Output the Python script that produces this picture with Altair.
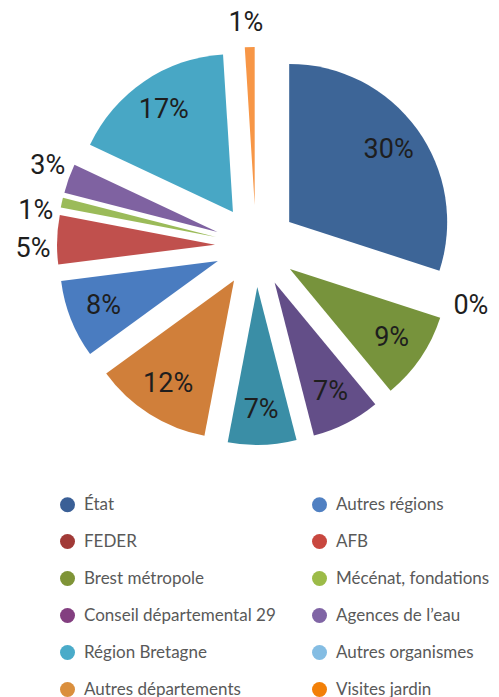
import altair as alt
import pandas as pd

# Pie slices, clockwise from 12 o'clock (also the legend order, column by column)
names = ["État", "FEDER", "Brest métropole", "Conseil départemental 29",
         "Région Bretagne", "Autres départements", "Autres régions", "AFB",
         "Mécénat, fondations", "Agences de l’eau", "Autres organismes",
         "Visites jardin"]
shares = [30, 0, 9, 7, 7, 12, 8, 5, 1, 3, 17, 1]
pie_colors = ["#3d6597", "#9e3a37", "#77933c", "#634e88", "#3a8ea6", "#d07f3a",
              "#4a7cc0", "#c0504d", "#9bbb59", "#7f62a1", "#48a7c5", "#f79646"]
legend_colors = ["#3a5f96", "#a13a37", "#7f9437", "#833f80", "#4aabc9", "#da8f3d",
                 "#5080c2", "#c8473f", "#9cbb48", "#8065a5", "#84bde3", "#f28008"]

df = pd.DataFrame({"idx": list(range(len(names))), "name": names, "share": shares})

CX, CY = 248, 238       # pie centre (px)
R = 158                 # outer radius
EXP = 41                # explode distance
R_IN, R_OUT = 164, 223  # label radii
# small angular nudges (degrees) for the outside labels, to keep them apart
NUDGE = {"FEDER": -2.5, "AFB": -2.6, "Mécénat, fondations": -3.6,
         "Agences de l’eau": 1.2, "Visites jardin": -0.8}
nudge_expr = "".join(f"datum.name=='{k}'?{v}:" for k, v in NUDGE.items()) + "0"

base = (
    alt.Chart(df)
    .transform_joinaggregate(total="sum(share)")
    .transform_window(cum="sum(share)", sort=[alt.SortField("idx")], frame=[None, 0])
    .transform_calculate(
        a0="2*PI*(datum.cum-datum.share)/datum.total",
        a1="2*PI*datum.cum/datum.total",
    )
    .transform_calculate(mid="(datum.a0+datum.a1)/2")
    .transform_calculate(
        px=f"{CX}+{EXP}*sin(datum.mid)",
        py=f"{CY}-{EXP}*cos(datum.mid)",
        lr=f"datum.share>=7?{R_IN}:{R_OUT}",
        la=f"datum.mid+({nudge_expr})*PI/180",
        label="datum.share+'%'",
    )
    .transform_calculate(
        lx=f"{CX}+datum.lr*sin(datum.la)",
        ly=f"{CY}-datum.lr*cos(datum.la)",
    )
)

arcs = base.mark_arc(outerRadius=R, innerRadius=0, stroke=None).encode(
    x=alt.X("px:Q", scale=None, axis=None),
    y=alt.Y("py:Q", scale=None, axis=None),
    theta=alt.Theta("a0:Q", scale=None, stack=False),
    theta2="a1:Q",
    color=alt.Color("name:N", scale=alt.Scale(domain=names, range=pie_colors), legend=None),
)

texts = base.mark_text(font="Roboto", fontSize=27, color="#1e1e1e",
                       align="center", baseline="middle").encode(
    x=alt.X("lx:Q", scale=None, axis=None),
    y=alt.Y("ly:Q", scale=None, axis=None),
    text="label:N",
)

legend_layer = alt.Chart(df).mark_point(filled=True, opacity=0).encode(
    x=alt.value(CX),
    y=alt.value(CY),
    color=alt.Color(
        "name:N",
        scale=alt.Scale(domain=names, range=legend_colors),
        legend=alt.Legend(
            title=None, orient="none", legendX=51, legendY=488, columns=2,
            symbolType="circle", symbolSize=225, symbolOpacity=1,
            symbolStrokeWidth=0, labelFont="Lato", labelFontSize=17,
            labelColor="#595959", rowPadding=19, columnPadding=35,
            labelOffset=8, labelLimit=400, padding=0,
        ),
    ),
)

chart = (
    alt.layer(arcs, texts, legend_layer)
    .resolve_scale(color="independent")
    .properties(width=483, height=689, padding=0,
                autosize=alt.AutoSizeParams(type="none"))
    .configure_view(stroke=None)
)

chart.save("out.html", embed_options={"renderer": "svg", "actions": False})
